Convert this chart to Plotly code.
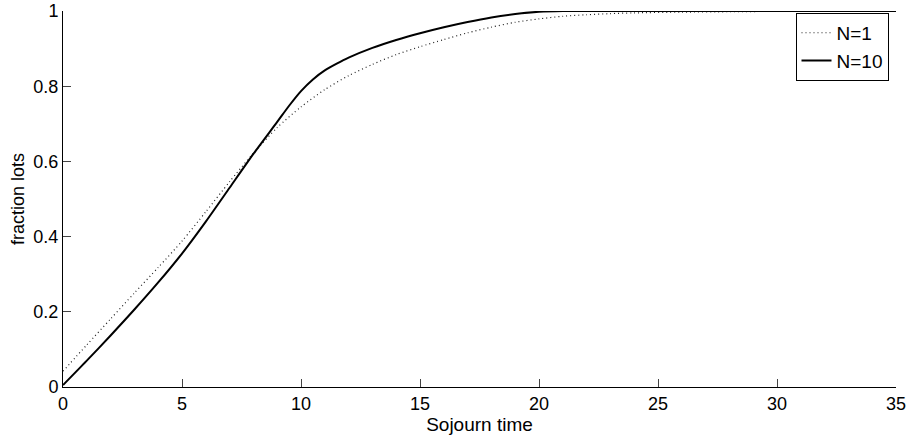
import plotly.graph_objects as go

# N=1 (dotted)
x_n1 = [0, 1, 2, 3, 4, 5, 6, 7, 8, 9, 10, 11, 12, 13, 14, 15, 16, 17, 18, 19, 20, 21, 22, 23, 24, 26, 28, 30, 35]
y_n1 = [0.042, 0.112, 0.181, 0.25, 0.318, 0.388, 0.466, 0.546, 0.622, 0.69, 0.745, 0.791, 0.828, 0.858, 0.884, 0.905, 0.924, 0.942, 0.957, 0.97, 0.979, 0.986, 0.99, 0.993, 0.995, 0.997, 0.998, 0.999, 1.0]

# N=10 (solid)
x_n10 = [0, 1, 2, 3, 4, 5, 6, 7, 8, 9, 9.5, 10, 10.5, 11, 11.5, 12, 13, 14, 15, 16, 17, 18, 19, 20, 21, 22, 25, 30, 35]
y_n10 = [0.005, 0.07, 0.137, 0.206, 0.278, 0.355, 0.44, 0.53, 0.62, 0.705, 0.748, 0.787, 0.818, 0.842, 0.86, 0.876, 0.902, 0.923, 0.941, 0.957, 0.971, 0.983, 0.992, 0.998, 1.0, 1.0, 1.0, 1.0, 1.0]

x_ticks = [0, 5, 10, 15, 20, 25, 30, 35]
y_ticks = [0, 0.2, 0.4, 0.6, 0.8, 1]

FONT = "Liberation Sans, Arial, sans-serif"
FS = 19
TFS = 18

fig = go.Figure()
fig.add_trace(go.Scatter(x=x_n1, y=y_n1, mode="lines", name="N=1",
                         line=dict(color="#222", width=1.2, dash="1px,3px", shape="spline", smoothing=0.7),
                         cliponaxis=False))
fig.add_trace(go.Scatter(x=x_n10, y=y_n10, mode="lines", name="N=10",
                         line=dict(color="black", width=2, shape="spline", smoothing=0.7),
                         cliponaxis=False))

fig.update_layout(
    width=909, height=439,
    margin=dict(l=63, r=13, t=11, b=52, autoexpand=False),
    paper_bgcolor="white", plot_bgcolor="white",
    font=dict(family=FONT, size=FS, color="black"),
    showlegend=True,
    legend=dict(x=0.991, y=0.995, xanchor="right", yanchor="top",
                bgcolor="white", bordercolor="black", borderwidth=1,
                font=dict(size=FS), itemwidth=30, tracegroupgap=0),
    xaxis=dict(range=[0, 35], tickvals=x_ticks, ticks="inside", ticklen=8,
               showline=True, linecolor="black", linewidth=1, showgrid=False, zeroline=False,
               mirror=False, tickfont=dict(size=TFS), ticklabeloverflow="allow", automargin=False,
               title=dict(text="Sojourn time", font=dict(size=FS), standoff=0)),
    yaxis=dict(range=[0, 1], tickvals=y_ticks, ticks="inside", ticklen=8,
               showline=True, linecolor="black", linewidth=1, showgrid=False, zeroline=False,
               mirror=False, tickfont=dict(size=TFS), ticklabeloverflow="allow", automargin=False,
               title=dict(text="fraction lots", font=dict(size=FS - 1), standoff=4)),
)

fig.write_html("out.html")
